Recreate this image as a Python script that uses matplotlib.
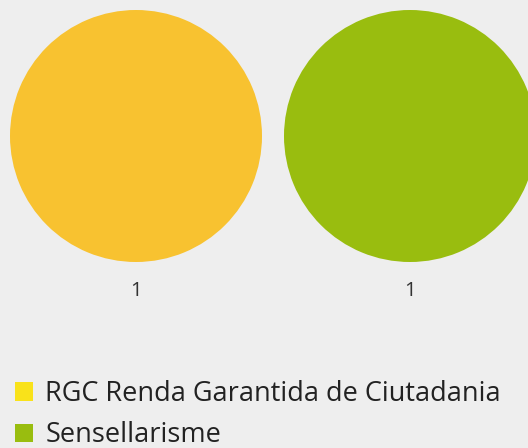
import matplotlib.pyplot as plt
from matplotlib.patches import Patch

plt.rcParams['font.family'] = ['Open Sans', 'DejaVu Sans']

categories = ['RGC Renda Garantida de Ciutadania', 'Sensellarisme']
values = [1, 1]
circle_colors = ['#F8C230', '#99BD0F']
legend_colors = ['#F9E21A', '#99BD0F']

W, H = 528, 448
fig = plt.figure(figsize=(W / 100, H / 100), dpi=100, facecolor='#EEEEEE')
ax = fig.add_axes([0, 0, 1, 1])
ax.set_xlim(0, W)
ax.set_ylim(H, 0)
ax.set_aspect('equal')
ax.axis('off')

r = 126
gap = 22
cy = 136
for i, (cat, v) in enumerate(zip(categories, values)):
    cx = 10 + r + i * (2 * r + gap)
    ax.pie([v], colors=[circle_colors[i]], center=(cx, cy), radius=r,
           wedgeprops=dict(linewidth=0), frame=True)
    ax.text(cx, cy + r + 29, str(v), ha='center', va='center',
            fontsize=14.5, color='#333333')

ax.set_xlim(0, W)
ax.set_ylim(H, 0)
ax.axis('off')

handles = [Patch(facecolor=c, edgecolor='none') for c in legend_colors]
fig.legend(handles, categories, loc='upper left', bbox_to_anchor=(4 / W, 1 - 369 / H),
           frameon=False, fontsize=19.5, handlelength=0.68, handleheight=0.68,
           handletextpad=0.45, labelspacing=0.5, borderaxespad=0,
           labelcolor='#222222')

fig.savefig('out.png', dpi=100, facecolor=fig.get_facecolor())
